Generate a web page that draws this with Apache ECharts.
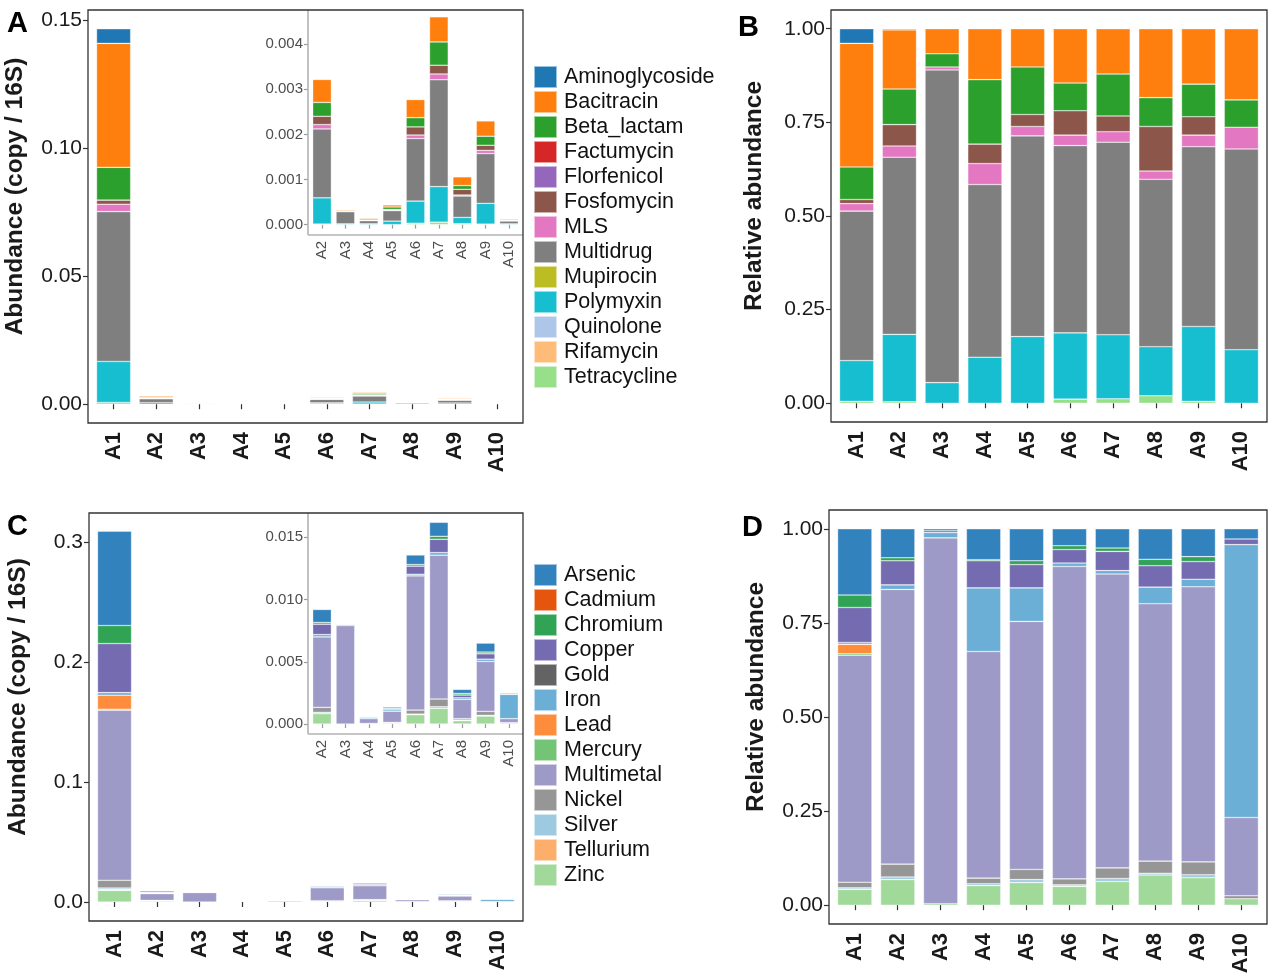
<!DOCTYPE html>
<html><head><meta charset="utf-8">
<script src="https://cdn.jsdelivr.net/npm/echarts@6/dist/echarts.min.js"></script>
<style>html,body{margin:0;padding:0;background:#fff}#c{width:1268px;height:974px}</style>
</head><body><div id="c"></div>
<script>
// ---------- DATA ----------
const samples = ['A1','A2','A3','A4','A5','A6','A7','A8','A9','A10'];

const argClasses = ['Aminoglycoside','Bacitracin','Beta_lactam','Factumycin','Florfenicol','Fosfomycin','MLS','Multidrug','Mupirocin','Polymyxin','Quinolone','Rifamycin','Tetracycline'];
const argColors = ['#1f77b4','#ff7f0e','#2ca02c','#d62728','#9467bd','#8c564b','#e377c2','#7f7f7f','#bcbd22','#17becf','#aec7e8','#ffbb78','#98df8a'];

// Panel A: abundance (copy / 16S), one row per class (order of argClasses), columns A1..A10
const argAbundance = [
  [0.0057, 0.00001, 0, 0, 0, 0, 0, 0, 0, 0],                                                   // Aminoglycoside
  [0.0484, 0.00051, 0.0000216, 0.0000204, 0.0000445, 0.000402, 0.000558, 0.000195, 0.00034, 0.0000228], // Bacitracin
  [0.0128, 0.000307, 0.0000113, 0.0000258, 0.0000554, 0.000205, 0.000516, 0.000082, 0.0002, 0.0000088], // Beta_lactam
  [0, 0, 0, 0, 0, 0, 0, 0, 0, 0],                                                              // Factumycin
  [0, 0, 0, 0, 0, 0, 0, 0, 0, 0],                                                              // Florfenicol
  [0.0016, 0.000184, 0, 0.0000078, 0.000014, 0.00018, 0.000194, 0.000126, 0.000113, 0],        // Fosfomycin
  [0.0029, 0.000097, 0.0000026, 0.0000084, 0.0000109, 0.000078, 0.000129, 0.000023, 0.000071, 0.000007], // MLS
  [0.0585, 0.001528, 0.00027, 0.0000692, 0.0002337, 0.001387, 0.002369, 0.000474, 0.001104, 0.0000643], // Multidrug
  [0, 0, 0, 0, 0, 0, 0, 0, 0, 0],                                                              // Mupirocin
  [0.016, 0.000581, 0.0000178, 0.0000184, 0.0000776, 0.000491, 0.000788, 0.000139, 0.00046, 0.0000172], // Polymyxin
  [0, 0, 0, 0, 0, 0, 0, 0, 0, 0],                                                              // Quinolone
  [0, 0, 0, 0, 0, 0, 0, 0, 0, 0],                                                              // Rifamycin
  [0.0007, 0.000013, 0, 0, 0, 0.000031, 0.000055, 0.000021, 0.000012, 0]                       // Tetracycline
];

// Panel B: relative abundance
const argRelative = [
  [0.039, 0.003, 0, 0, 0, 0, 0, 0, 0, 0],
  [0.330, 0.158, 0.067, 0.136, 0.102, 0.145, 0.121, 0.184, 0.148, 0.190],
  [0.087, 0.095, 0.035, 0.172, 0.127, 0.074, 0.112, 0.077, 0.087, 0.073],
  [0, 0, 0, 0, 0, 0, 0, 0, 0, 0],
  [0, 0, 0, 0, 0, 0, 0, 0, 0, 0],
  [0.011, 0.057, 0, 0.052, 0.032, 0.065, 0.042, 0.119, 0.049, 0],
  [0.020, 0.030, 0.008, 0.056, 0.025, 0.028, 0.028, 0.022, 0.031, 0.058],
  [0.399, 0.473, 0.835, 0.461, 0.536, 0.500, 0.514, 0.447, 0.480, 0.536],
  [0, 0, 0, 0, 0, 0, 0, 0, 0, 0],
  [0.109, 0.180, 0.055, 0.123, 0.178, 0.177, 0.171, 0.131, 0.200, 0.143],
  [0, 0, 0, 0, 0, 0, 0, 0, 0, 0],
  [0, 0, 0, 0, 0, 0, 0, 0, 0, 0],
  [0.005, 0.004, 0, 0, 0, 0.011, 0.012, 0.020, 0.005, 0]
];

const mrgClasses = ['Arsenic','Cadmium','Chromium','Copper','Gold','Iron','Lead','Mercury','Multimetal','Nickel','Silver','Tellurium','Zinc'];
const mrgColors = ['#3182bd','#e6550d','#31a354','#756bb1','#636363','#6baed6','#fd8d3c','#74c476','#9e9ac8','#969696','#9ecae1','#fdae6b','#a1d99b'];

// Panel C: abundance (copy / 16S)
const mrgAbundance = [
  [0.0786, 0.00104, 0.00004, 0.000053, 0.000116, 0.00077, 0.00112, 0.00032, 0.00072, 0.00008], // Arsenic
  [0, 0, 0, 0, 0, 0, 0, 0, 0, 0],                                                               // Cadmium
  [0.015, 0.00014, 0, 0.000002, 0.000014, 0.00013, 0.00024, 0.00013, 0.00014, 0],               // Chromium
  [0.0409, 0.00083, 0.00002, 0.000046, 0.000084, 0.00065, 0.00107, 0.00022, 0.00043, 0.00003],  // Copper
  [0, 0, 0, 0, 0, 0, 0, 0, 0, 0],                                                               // Gold
  [0.0022, 0.00019, 0.00008, 0.000108, 0.000121, 0.00013, 0.00021, 0.00013, 0.00018, 0.00195],  // Iron
  [0.0116, 0, 0, 0, 0, 0, 0, 0, 0, 0],                                                          // Lead
  [0.0009, 0, 0, 0, 0, 0, 0, 0, 0, 0],                                                          // Mercury
  [0.1416, 0.00566, 0.00791, 0.000385, 0.000896, 0.01078, 0.01155, 0.00155, 0.00401, 0.00032],  // Multimetal
  [0.0064, 0.0004, 0, 0.00001, 0.000037, 0.00032, 0.00062, 0.00011, 0.00032, 0.00002],          // Nickel
  [0.0012, 0.00011, 0, 0.000003, 0.000012, 0.00005, 0.00013, 0.00005, 0.00006, 0],              // Silver
  [0.0008, 0, 0, 0, 0, 0, 0, 0, 0, 0],                                                          // Tellurium
  [0.0097, 0.00083, 0, 0.000033, 0.000082, 0.00075, 0.00126, 0.00027, 0.00064, 0.00009]         // Zinc
];

// Panel D: relative abundance
const mrgRelative = [
  [0.176, 0.077, 0.005, 0.082, 0.085, 0.045, 0.051, 0.081, 0.074, 0.027],
  [0, 0, 0, 0, 0, 0, 0, 0, 0, 0],
  [0.033, 0.008, 0, 0.003, 0.010, 0.010, 0.009, 0.017, 0.013, 0],
  [0.093, 0.064, 0.005, 0.072, 0.062, 0.036, 0.051, 0.057, 0.047, 0.015],
  [0, 0, 0, 0, 0, 0, 0, 0, 0, 0],
  [0.005, 0.012, 0.014, 0.169, 0.089, 0.009, 0.009, 0.044, 0.020, 0.725],
  [0.025, 0, 0, 0, 0, 0, 0, 0, 0, 0],
  [0.004, 0, 0, 0, 0, 0, 0, 0, 0, 0],
  [0.603, 0.730, 0.972, 0.602, 0.659, 0.830, 0.781, 0.684, 0.731, 0.208],
  [0.015, 0.034, 0, 0.015, 0.027, 0.016, 0.028, 0.032, 0.034, 0.008],
  [0.004, 0.007, 0, 0.005, 0.008, 0.004, 0.008, 0.005, 0.008, 0],
  [0, 0, 0, 0, 0, 0, 0, 0, 0, 0],
  [0.042, 0.068, 0.004, 0.052, 0.060, 0.050, 0.063, 0.080, 0.073, 0.017]
];

// Tick labels
const ticksA  = [0, 0.05, 0.10, 0.15];
const ticksAi = [0, 0.001, 0.002, 0.003, 0.004];
const ticksRel = [0, 0.25, 0.5, 0.75, 1.0];
const ticksC  = [0, 0.1, 0.2, 0.3];
const ticksCi = [0, 0.005, 0.010, 0.015];

// ---------- LAYOUT ----------
const FF = '"Liberation Sans", Arial, Helvetica, sans-serif';
const panels = [
  {key:'A',  f:{l:88, t:10, r:523, b:423}, cats:samples,          min:-0.00733, max:0.15393, ticks:ticksA,  dec:2, inset:false, title:'Abundance (copy / 16S)', gap:60},
  {key:'Ai', f:{l:308,t:10, r:523, b:235}, cats:samples.slice(1), min:-0.00023, max:0.00476, ticks:ticksAi, dec:3, inset:true},
  {key:'B',  f:{l:831,t:10, r:1267,b:422}, cats:samples,          min:-0.05,    max:1.05,    ticks:ticksRel,dec:2, inset:false, title:'Relative abundance', gap:64},
  {key:'C',  f:{l:89, t:513,r:523, b:921}, cats:samples,          min:-0.0158,  max:0.3240,  ticks:ticksC,  dec:1, inset:false, title:'Abundance (copy / 16S)', gap:58},
  {key:'Ci', f:{l:308,t:513,r:523, b:734}, cats:samples.slice(1), min:-0.0008,  max:0.01695, ticks:ticksCi, dec:3, inset:true},
  {key:'D',  f:{l:829,t:510,r:1267,b:924}, cats:samples,          min:-0.05,    max:1.05,    ticks:ticksRel,dec:2, inset:false, title:'Relative abundance', gap:60}
];
const panelData = {
  A:  {rows:argAbundance, classes:argClasses, colors:argColors, start:0},
  Ai: {rows:argAbundance, classes:argClasses, colors:argColors, start:1},
  B:  {rows:argRelative,  classes:argClasses, colors:argColors, start:0},
  C:  {rows:mrgAbundance, classes:mrgClasses, colors:mrgColors, start:0},
  Ci: {rows:mrgAbundance, classes:mrgClasses, colors:mrgColors, start:1},
  D:  {rows:mrgRelative,  classes:mrgClasses, colors:mrgColors, start:0}
};

const grids = [], xAxes = [], yAxes = [], series = [], graphics = [];
panels.forEach((p, i) => {
  const f = p.f, n = p.cats.length, w = f.r - f.l;
  const pad = w * 0.1 / (n + 0.2);
  grids.push({left:f.l + pad, top:f.t, width:w - 2*pad, height:f.b - f.t, containLabel:false, outerBoundsMode:'none'});
  const tickCol = p.inset ? '#9a9a9a' : '#333';
  const labCol = p.inset ? '#4d4d4d' : '#1a1a1a';
  xAxes.push({
    type:'category', gridIndex:i, data:p.cats, position:'bottom',
    axisLine:{show:false},
    axisTick:{show:true, alignWithLabel:true, length:p.inset?4:5, lineStyle:{color:tickCol, width:1.2}},
    axisLabel:{rotate:90, fontFamily:FF, fontSize:p.inset?15:22, fontWeight:p.inset?'normal':'bold', color:labCol, margin:p.inset?6:9},
    splitLine:{show:false}, z:10
  });
  yAxes.push({
    type:'value', gridIndex:i, min:p.min, max:p.max, offset:pad, position:'left',
    axisLine:{show:false},
    axisTick:{show:true, customValues:p.ticks, length:p.inset?4:5, lineStyle:{color:tickCol, width:1.2}},
    axisLabel:{customValues:p.ticks, formatter:v => Number(v).toFixed(p.dec), fontFamily:FF, fontSize:p.inset?15:21, color:labCol, margin:p.inset?5:6},
    splitLine:{show:false},
    name:p.title || '', nameLocation:'middle', nameGap:p.gap || 0,
    nameTextStyle:{fontFamily:FF, fontSize:24.5, fontWeight:'bold', color:'#1a1a1a', padding:[0,0,0,40]},
    z:10
  });
  const d = panelData[p.key];
  for (let c = d.classes.length - 1; c >= 0; c--) {
    series.push({
      type:'bar', name:d.classes[c], xAxisIndex:i, yAxisIndex:i, stack:p.key,
      barWidth:'80%', z:p.inset?12:2,
      itemStyle:{color:d.colors[c], borderColor:'rgba(255,255,255,0.55)', borderWidth:0.6},
      emphasis:{disabled:true},
      data:d.rows[c].slice(d.start).map(v => v === 0 ? '-' : v)
    });
  }
  if (p.inset) {
    graphics.push({type:'line', z:50, shape:{x1:f.l, y1:f.t, x2:f.l, y2:f.b}, style:{stroke:'#b3b3b3', lineWidth:1.6}});
    graphics.push({type:'line', z:50, shape:{x1:f.l, y1:f.b, x2:f.r, y2:f.b}, style:{stroke:'#b3b3b3', lineWidth:1.6}});
  } else {
    graphics.push({type:'rect', z:60, shape:{x:f.l, y:f.t, width:w, height:f.b - f.t}, style:{fill:null, stroke:'#333', lineWidth:1.3}});
  }
});

const letters = [['A',2,4],['B',733,8],['C',2,507],['D',737,508]].map(([t,x,y]) => ({
  text:t, left:x, top:y, textStyle:{fontFamily:FF, fontSize:29, fontWeight:'bold', color:'#000'}
}));

const legendCommon = {
  orient:'vertical', icon:'rect', itemWidth:23, itemHeight:22, itemGap:1, selectedMode:false,
  textStyle:{fontFamily:FF, fontSize:21.5, lineHeight:22, color:'#111', padding:[0,0,0,2]}
};

const chart = echarts.init(document.getElementById('c'), null, {renderer:'canvas'});
chart.setOption({
  backgroundColor:'#fff',
  animation:false,
  title:letters,
  legend:[
    Object.assign({data:argClasses, left:528, top:60}, legendCommon),
    Object.assign({data:mrgClasses, left:528, top:558}, legendCommon)
  ],
  grid:grids, xAxis:xAxes, yAxis:yAxes, series:series,
  graphic:graphics
});
</script></body></html>
